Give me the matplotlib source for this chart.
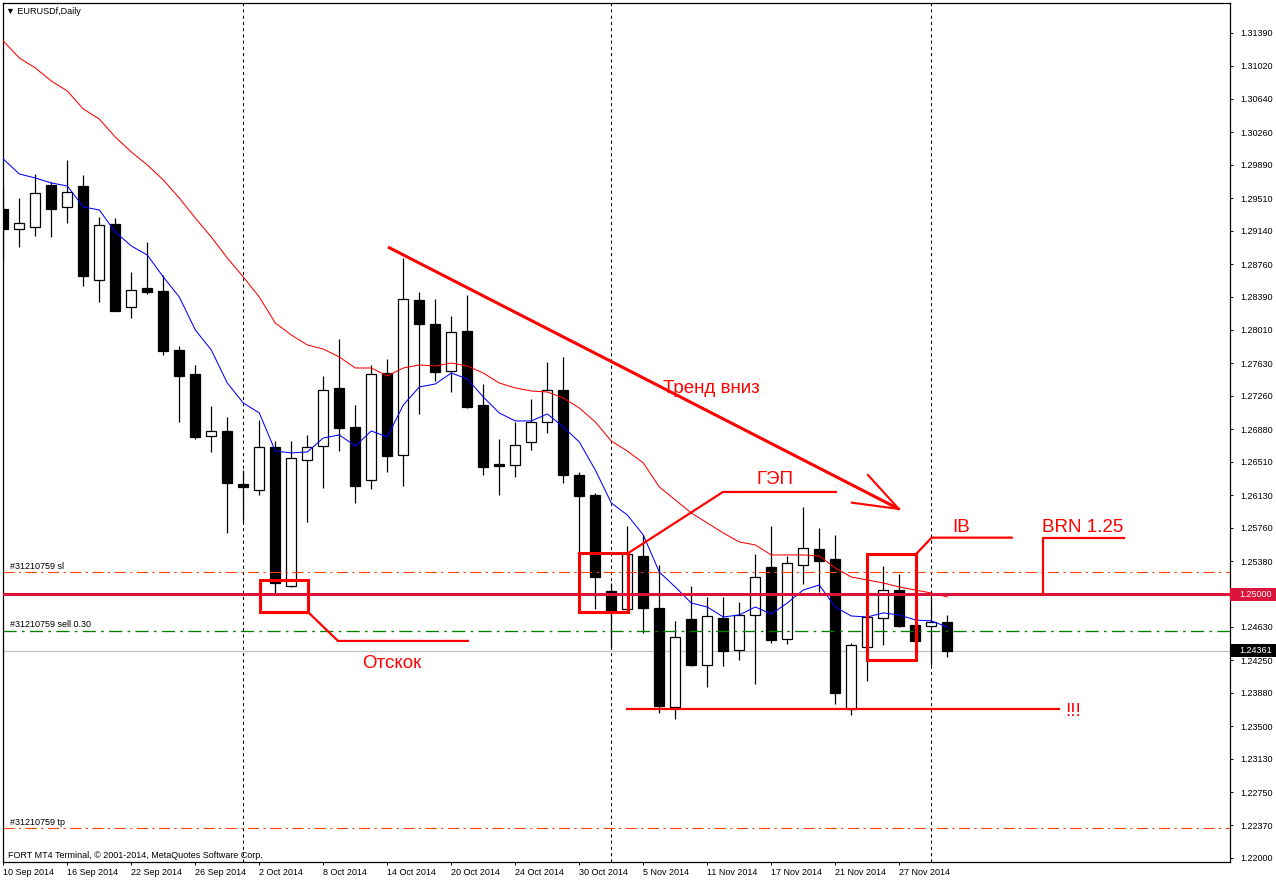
import matplotlib
matplotlib.use("Agg")
import matplotlib.pyplot as plt
import matplotlib.transforms as mtransforms
from matplotlib.patches import Rectangle
import numpy as np

plt.rcParams['font.family'] = ['Liberation Sans', 'DejaVu Sans']

# EURUSDf daily bars, 10 Sep 2014 .. 2 Dec 2014
opens = [1.29387, 1.29159, 1.29182, 1.29660, 1.29410, 1.29649, 1.28579, 1.29216, 1.28271, 1.28488,
         1.28454, 1.27782, 1.27509, 1.26803, 1.26860, 1.26257, 1.26189, 1.26678, 1.25096, 1.26530,
         1.26689, 1.27350, 1.26906, 1.26302, 1.27520, 1.26587, 1.28351, 1.28078, 1.27543, 1.27998,
         1.27156, 1.26485, 1.26473, 1.26735, 1.26963, 1.27327, 1.26359, 1.26132, 1.25039, 1.24834,
         1.25437, 1.24846, 1.23719, 1.24720, 1.24197, 1.24732, 1.24367, 1.24766, 1.25312, 1.24493,
         1.25335, 1.25517, 1.25403, 1.23696, 1.24402, 1.24732, 1.25050, 1.24652, 1.24641, 1.24686]
highs = [1.29626, 1.29512, 1.29785, 1.29694, 1.29945, 1.29774, 1.29296, 1.29284, 1.28670, 1.29011,
         1.28636, 1.27828, 1.27611, 1.27145, 1.27019, 1.26416, 1.26985, 1.26746, 1.26746, 1.26815,
         1.27486, 1.27907, 1.27156, 1.27611, 1.27680, 1.28829, 1.28442, 1.28363, 1.28169, 1.28408,
         1.27395, 1.26769, 1.26963, 1.27224, 1.27645, 1.27702, 1.26393, 1.26154, 1.25130, 1.25779,
         1.25676, 1.25335, 1.24698, 1.25096, 1.24971, 1.24971, 1.24914, 1.25460, 1.25779, 1.25437,
         1.25995, 1.25756, 1.25676, 1.24447, 1.24754, 1.25324, 1.25232, 1.24652, 1.25016, 1.24766]
lows = [1.28829, 1.28954, 1.29080, 1.29068, 1.29228, 1.28511, 1.28328, 1.28220, 1.28146, 1.28419,
        1.27725, 1.26963, 1.26769, 1.26621, 1.25699, 1.25824, 1.26132, 1.25005, 1.25084, 1.25824,
        1.26211, 1.26632, 1.26041, 1.26200, 1.26393, 1.26234, 1.27054, 1.27429, 1.27304, 1.27120,
        1.26359, 1.26132, 1.26337, 1.26644, 1.26837, 1.26268, 1.25472, 1.24834, 1.24390, 1.24834,
        1.24561, 1.23650, 1.23582, 1.24185, 1.23946, 1.24185, 1.24254, 1.23980, 1.24447, 1.24436,
        1.25119, 1.25028, 1.23753, 1.23628, 1.24015, 1.24424, 1.24629, 1.24470, 1.24197, 1.24288]
closes = [1.29159, 1.29228, 1.29569, 1.29387, 1.29580, 1.28624, 1.29205, 1.28226, 1.28465, 1.28442,
          1.27771, 1.27486, 1.26792, 1.26860, 1.26268, 1.26223, 1.26678, 1.25130, 1.26553, 1.26678,
          1.27327, 1.26894, 1.26234, 1.27509, 1.26576, 1.28363, 1.28078, 1.27532, 1.27987, 1.27133,
          1.26450, 1.26462, 1.26701, 1.26963, 1.27327, 1.26359, 1.26120, 1.25198, 1.24811, 1.25460,
          1.24846, 1.23730, 1.24515, 1.24197, 1.24754, 1.24356, 1.24766, 1.25198, 1.24481, 1.25358,
          1.25528, 1.25380, 1.23878, 1.24424, 1.24743, 1.25050, 1.24641, 1.24470, 1.24686, 1.24361]

# moving averages as drawn on the chart
ma_red = [1.31299, 1.31106, 1.30992, 1.30844, 1.30730, 1.30525, 1.30411, 1.30206, 1.30036, 1.29888,
          1.29717, 1.29512, 1.29284, 1.29068, 1.28829, 1.28613, 1.28385, 1.28089, 1.27953, 1.27839,
          1.27793, 1.27702, 1.27577, 1.27577, 1.27486, 1.27577, 1.27611, 1.27600, 1.27634, 1.27600,
          1.27520, 1.27406, 1.27350, 1.27315, 1.27304, 1.27236, 1.27122, 1.26963, 1.26746, 1.26632,
          1.26496, 1.26223, 1.26075, 1.25927, 1.25813, 1.25699, 1.25597, 1.25563, 1.25449, 1.25449,
          1.25449, 1.25437, 1.25301, 1.25198, 1.25164, 1.25130, 1.25084, 1.25050, 1.25016, 1.24971]
ma_blue = [1.29956, 1.29785, 1.29740, 1.29683, 1.29649, 1.29410, 1.29376, 1.29125, 1.28966, 1.28863,
           1.28613, 1.28385, 1.28010, 1.27782, 1.27406, 1.27179, 1.27065, 1.26632, 1.26610, 1.26621,
           1.26780, 1.26815, 1.26689, 1.26860, 1.26792, 1.27156, 1.27361, 1.27395, 1.27520, 1.27452,
           1.27247, 1.27065, 1.26974, 1.26974, 1.27054, 1.26906, 1.26735, 1.26416, 1.26041, 1.25904,
           1.25676, 1.25255, 1.25084, 1.24902, 1.24857, 1.24743, 1.24766, 1.24857, 1.24777, 1.24902,
           1.25050, 1.25107, 1.24857, 1.24754, 1.24743, 1.24789, 1.24766, 1.24709, 1.24698, 1.24629]

date_ticks = [0, 4, 8, 12, 16, 20, 24, 28, 32, 36, 40, 44, 48, 52, 56]
date_labels = ["10 Sep 2014", "16 Sep 2014", "22 Sep 2014", "26 Sep 2014", "2 Oct 2014",
               "8 Oct 2014", "14 Oct 2014", "20 Oct 2014", "24 Oct 2014", "30 Oct 2014",
               "5 Nov 2014", "11 Nov 2014", "17 Nov 2014", "21 Nov 2014", "27 Nov 2014"]
month_separators = [15, 38, 58]
price_ticks = [1.22000, 1.22370, 1.22750, 1.23130, 1.23500, 1.23880, 1.24250, 1.24630, 1.25000,
               1.25380, 1.25760, 1.26130, 1.26510, 1.26880, 1.27260, 1.27630, 1.28010, 1.28390,
               1.28760, 1.29140, 1.29510, 1.29890, 1.30260, 1.30640, 1.31020, 1.31390]

level_brn = 1.25000
level_sl = 1.25252
level_sell = 1.24587
level_tp = 1.22338
bid = 1.24361

W, H = 1276, 880
fig = plt.figure(figsize=(W / 100, H / 100), dpi=100)
ax_px = (2.7, 18, 1227.3, 858.7)   # left, bottom, width, height in pixels
ax = fig.add_axes([ax_px[0] / W, ax_px[1] / H, ax_px[2] / W, ax_px[3] / H])
ax.set_xlim(-0.0375, 76.67)
ax.set_ylim(1.21954, 1.31728)
px = (1.31728 - 1.21954) / ax_px[3]   # price per pixel

x = np.arange(len(opens))
o = np.array(opens); c = np.array(closes)
lo_b = np.minimum(o, c); hi_b = np.maximum(o, c)
up = c >= o

# candles
ax.vlines(x, lows, highs, color='black', lw=0.9, zorder=2)
ax.bar(x, np.maximum(hi_b - lo_b, 0.6 * px), bottom=lo_b, width=0.6,
       color=np.where(up, 'white', 'black'), edgecolor='black', linewidth=0.9, zorder=3)

# period separators
for b in month_separators:
    ax.axvline(b, color='black', lw=0.75, ls=(0, (3, 3)), zorder=1)

# order / price lines
ax.axhline(bid, color='#C0C0C0', lw=0.9, zorder=1)
ax.axhline(level_sl, color='#FF4500', lw=0.8, ls=(0, (10, 4, 2, 4)), zorder=4)
ax.axhline(level_sell, color='#008000', lw=0.95, ls=(0, (10, 4, 2, 4)), zorder=4)
ax.axhline(level_tp, color='#FF4500', lw=0.8, ls=(0, (10, 4, 2, 4)), zorder=4)
ax.axhline(level_brn, color='#DC143C', lw=2.2, zorder=5)

ax.plot(x, ma_red, color='#FF0000', lw=0.75, zorder=4)
ax.plot(x, ma_blue, color='#0000FF', lw=0.75, zorder=4)

trans_l = mtransforms.blended_transform_factory(ax.transAxes, ax.transData)
for lvl, txt in [(level_sl, "#31210759 sl"), (level_sell, "#31210759 sell 0.30"),
                 (level_tp, "#31210759 tp")]:
    ax.text(7 / ax_px[2], lvl + 6 * px, txt, transform=trans_l, fontsize=6.5,
            va='center', ha='left', zorder=6)

# hand-drawn analysis objects (bar index, price)
red = '#FF0000'
ax.plot([24.04, 55.98], [1.28954, 1.25972], color=red, lw=2.2, zorder=6, solid_capstyle='butt')
ax.plot([54.04, 55.98], [1.26359, 1.25972], color=red, lw=1.5, zorder=6)
ax.plot([53.03, 55.98], [1.26044, 1.25972], color=red, lw=1.5, zorder=6)

for x0, x1, p0, p1 in [(16.04, 19.04, 1.24800, 1.25164),
                       (36.00, 39.04, 1.24797, 1.25468),
                       (53.96, 57.04, 1.24254, 1.25457)]:
    ax.add_patch(Rectangle((x0, p0), x1 - x0, p1 - p0, fill=False, ec=red, lw=2.2, zorder=6))

for xs, ps in [([19.04, 20.92, 29.04], [1.24800, 1.24470, 1.24470]),
               ([39.04, 44.98, 52.04], [1.25468, 1.26166, 1.26166]),
               ([57.04, 58.02, 63.03], [1.25457, 1.25646, 1.25646]),
               ([64.96, 64.96, 70.04], [1.25000, 1.25646, 1.25646]),
               ([38.98, 65.98], [1.23692, 1.23692])]:
    ax.plot(xs, ps, color=red, lw=1.6, zorder=6)

for bx, bp, txt in [(41.23, 1.27293, "Тренд вниз"), (47.05, 1.26257, "ГЭП"),
                    (22.45, 1.24163, "Отскок"), (59.33, 1.25710, "IB"),
                    (64.95, 1.25710, "BRN 1.25"), (66.40, 1.23616, "!!!")]:
    ax.text(bx, bp, txt, color=red, fontsize=13.5, va='baseline', ha='left', zorder=7)

# axes look
for s in ax.spines.values():
    s.set_linewidth(0.9)
    s.set_color('black')
ax.yaxis.tick_right()
ax.set_yticks(price_ticks)
ax.set_yticklabels(["%.5f" % p for p in price_ticks])
ax.tick_params(axis='y', direction='out', length=2.5, width=0.7, pad=5, labelsize=6.5)
ax.set_xticks(date_ticks)
ax.set_xticklabels(date_labels, ha='left')
ax.tick_params(axis='x', direction='out', length=2.5, width=0.7, pad=1.5, labelsize=6.5)

# highlighted price labels on the scale
bw = 46 / ax_px[2]
bh = 13 * px
for lvl, fc in [(level_brn, '#DC143C'), (bid, 'black')]:
    ax.add_patch(Rectangle((1.0, lvl - bh / 2), bw, bh, transform=trans_l, fc=fc, ec='none',
                           clip_on=False, zorder=8))
    ax.text(1.0 + 9 / ax_px[2], lvl, "%.5f" % lvl, transform=trans_l, color='white',
            fontsize=6.5, va='center', ha='left', clip_on=False, zorder=9)

fig.text(6 / W, 1 - 11 / H, "▼ EURUSDf,Daily", fontsize=6.5, va='center', ha='left')
fig.text(8 / W, 1 - 855 / H, "FORT MT4 Terminal, © 2001-2014, MetaQuotes Software Corp.",
         fontsize=6.5, va='center', ha='left')

fig.savefig("out.png", dpi=100)
